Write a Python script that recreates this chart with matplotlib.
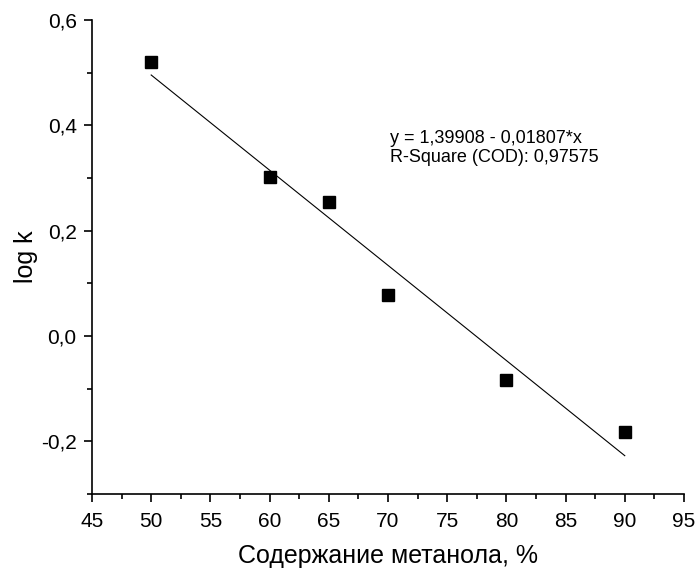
import numpy as np
import matplotlib.pyplot as plt
from matplotlib.ticker import MultipleLocator, FuncFormatter

methanol = [50, 60, 65, 70, 80, 90]
log_k = [0.521, 0.301, 0.255, 0.078, -0.083, -0.183]
intercept = 1.39908
slope = -0.01807
fit_text = "y = 1,39908 - 0,01807*x\nR-Square (COD): 0,97575"

plt.rcParams['font.family'] = ['Liberation Sans', 'DejaVu Sans']

fig = plt.figure(figsize=(6.99, 5.7), dpi=100)
ax = fig.add_axes([0.1316, 0.1333, 0.8469, 0.8316])

ax.plot(methanol, log_k, 's', color='black', markersize=8.5, zorder=3)
xf = np.array([methanol[0], methanol[-1]])
ax.plot(xf, intercept + slope * xf, color='black', lw=0.8)

ax.set_xlim(45, 95)
ax.set_ylim(-0.3, 0.6)
ax.xaxis.set_major_locator(MultipleLocator(5))
ax.xaxis.set_minor_locator(MultipleLocator(2.5))
ax.yaxis.set_major_locator(MultipleLocator(0.2))
ax.yaxis.set_minor_locator(MultipleLocator(0.1))
ax.yaxis.set_major_formatter(FuncFormatter(lambda v, p: f"{v:.1f}".replace('.', ',').replace('-0,0', '0,0')))

for s in ['top', 'right']:
    ax.spines[s].set_visible(False)
for s in ['left', 'bottom']:
    ax.spines[s].set_linewidth(1.2)

ax.tick_params(which='major', direction='out', length=6, width=1.2, labelsize=15)
ax.tick_params(which='minor', direction='out', length=3.5, width=1.2)
ax.tick_params(axis='x', which='major', pad=7)
ax.tick_params(axis='y', which='major', pad=5)

ax.set_xlabel('Содержание метанола, %', fontsize=18, labelpad=9)
ax.set_ylabel('log k', fontsize=18, labelpad=2)

ax.text(70.2, 0.357, fit_text, fontsize=13, va='center', ha='left', linespacing=1.15)

fig.savefig('out.png', dpi=100)
